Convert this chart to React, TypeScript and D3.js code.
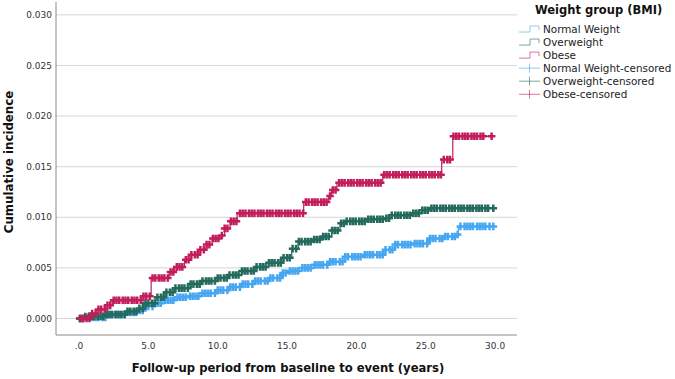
import React from "react";
import * as d3 from "d3";

// step points: [time in years, cumulative incidence]
const normalSteps: [number, number][] = [
  [0, 0], [0.5, 0.0001], [2.0, 0.0004], [3.3, 0.0006], [4.3, 0.0008], [4.76, 0.0012],
  [5.48, 0.0015], [6.2, 0.0018], [6.92, 0.0021], [7.88, 0.0022], [8.85, 0.0025],
  [9.81, 0.0028], [10.76, 0.0031], [11.73, 0.0034], [12.69, 0.0037], [13.65, 0.004],
  [14.61, 0.0045], [15.0, 0.0047], [15.81, 0.005], [16.78, 0.0053], [17.97, 0.0056],
  [19.18, 0.0061], [20.38, 0.0063], [22.06, 0.0068], [22.78, 0.0073], [23.99, 0.0074],
  [25.18, 0.0079], [26.39, 0.0081], [27.11, 0.0083], [27.35, 0.0091],
];
const overSteps: [number, number][] = [
  [0, 0], [0.43, 0.0002], [1.87, 0.0004], [3.32, 0.0007], [4.28, 0.001], [4.76, 0.0015],
  [5.48, 0.0021], [6.2, 0.0026], [6.92, 0.003], [7.88, 0.0034], [8.85, 0.0037],
  [9.81, 0.004], [10.76, 0.0043], [11.73, 0.0047], [12.69, 0.0051], [13.65, 0.0055],
  [14.61, 0.006], [15.34, 0.0069], [15.81, 0.0076], [16.78, 0.0078], [17.5, 0.0081],
  [18.22, 0.0087], [18.82, 0.0094], [19.18, 0.0096], [20.62, 0.0098], [22.06, 0.0099],
  [22.55, 0.0102], [23.99, 0.0104], [24.71, 0.0107], [25.18, 0.0109],
];
const obeseSteps: [number, number][] = [
  [0, 0], [0.9, 0.0005], [1.4, 0.0009], [1.9, 0.0013], [2.4, 0.0018], [4.5, 0.0022],
  [5.2, 0.004], [6.5, 0.0046], [6.9, 0.0051], [7.6, 0.0058], [8.1, 0.0063], [8.6, 0.0068],
  [9.2, 0.0073], [9.6, 0.0079], [10.1, 0.0082], [10.5, 0.0089], [10.9, 0.0096],
  [11.4, 0.0104], [16.2, 0.0115], [18.0, 0.0121], [18.2, 0.0127], [18.6, 0.0134],
  [21.9, 0.0142], [26.15, 0.0157], [26.95, 0.018],
];

// censoring times (years)
const normalCensor = [
  0.1, 0.3, 0.5, 0.8, 1.0, 1.2, 1.4, 1.7, 1.9, 2.1, 2.3, 2.6, 2.8, 3.0, 3.2, 3.5, 3.7, 3.9,
  4.1, 4.4, 4.6, 4.8, 5.0, 5.3, 5.5, 5.7, 5.9, 6.2, 6.4, 6.6, 6.8, 7.1, 7.3, 7.5, 7.7, 8.0,
  8.2, 8.4, 8.6, 8.9, 9.1, 9.3, 9.5, 9.8, 10.0, 10.2, 10.4, 10.7, 10.9, 11.1, 11.3, 11.6,
  11.8, 12.0, 12.2, 12.5, 12.7, 12.9, 13.1, 13.4, 13.6, 13.8, 14.0, 14.3, 14.5, 14.7, 14.9,
  15.2, 15.4, 15.6, 15.8, 16.1, 16.3, 16.5, 16.7, 17.0, 17.2, 17.4, 17.6, 17.9, 18.1, 18.3,
  18.5, 18.8, 19.0, 19.2, 19.4, 19.7, 19.9, 20.1, 20.3, 20.6, 20.8, 21.0, 21.2, 21.5, 21.7,
  21.9, 22.1, 22.4, 22.6, 22.8, 23.0, 23.3, 23.5, 23.7, 23.9, 24.2, 24.4, 24.6, 24.8, 25.1,
  25.3, 25.5, 25.7, 26.0, 26.2, 26.4, 26.6, 26.9, 27.1, 27.3, 27.5, 27.8, 28.0, 28.2, 28.4,
  28.7, 28.9, 29.1, 29.3, 29.6, 29.87,
];
const overCensor = [
  0.05, 0.25, 0.45, 0.7, 0.9, 1.1, 1.35, 1.55, 1.75, 2.0, 2.2, 2.4, 2.65, 2.85, 3.05, 3.3,
  3.5, 3.7, 3.95, 4.15, 4.35, 4.6, 4.8, 5.0, 5.25, 5.45, 5.65, 5.9, 6.1, 6.3, 6.55, 6.75,
  6.95, 7.2, 7.4, 7.6, 7.85, 8.05, 8.25, 8.5, 8.7, 8.9, 9.15, 9.35, 9.55, 9.8, 10.0, 10.2,
  10.45, 10.65, 10.85, 11.1, 11.3, 11.5, 11.75, 11.95, 12.15, 12.4, 12.6, 12.8, 13.05,
  13.25, 13.45, 13.7, 13.9, 14.1, 14.35, 14.55, 14.75, 15.0, 15.2, 15.4, 15.65, 15.85,
  16.05, 16.3, 16.5, 16.7, 16.95, 17.15, 17.35, 17.6, 17.8, 18.0, 18.25, 18.45, 18.65,
  18.9, 19.1, 19.3, 19.55, 19.75, 19.95, 20.2, 20.4, 20.6, 20.85, 21.05, 21.25, 21.5, 21.7,
  21.9, 22.15, 22.35, 22.55, 22.8, 23.0, 23.2, 23.45, 23.65, 23.85, 24.1, 24.3, 24.5,
  24.75, 24.95, 25.15, 25.4, 25.6, 25.8, 26.05, 26.25, 26.45, 26.7, 26.9, 27.1, 27.35,
  27.55, 27.75, 28.0, 28.2, 28.4, 28.65, 28.85, 29.05, 29.3, 29.5, 29.87,
];
const obeseCensor = [
  0.1, 0.3, 0.55, 0.75, 0.95, 1.2, 1.4, 1.6, 1.85, 2.05, 2.25, 2.5, 2.7, 2.9, 3.15, 3.35,
  3.55, 3.8, 4.0, 4.2, 4.45, 4.65, 4.85, 5.1, 5.3, 5.5, 5.75, 5.95, 6.15, 6.4, 6.6, 6.8,
  7.05, 7.25, 7.45, 7.7, 7.9, 8.1, 8.35, 8.55, 8.75, 9.0, 9.2, 9.4, 9.65, 9.85, 10.05,
  10.3, 10.5, 10.7, 10.95, 11.15, 11.35, 11.6, 11.8, 12.0, 12.25, 12.45, 12.65, 12.9,
  13.1, 13.3, 13.55, 13.75, 13.95, 14.2, 14.4, 14.6, 14.85, 15.05, 15.25, 15.5, 15.7,
  15.9, 16.15, 16.35, 16.55, 16.8, 17.0, 17.2, 17.45, 17.65, 17.85, 18.1, 18.3, 18.5,
  18.75, 18.95, 19.15, 19.4, 19.6, 19.8, 20.05, 20.25, 20.45, 20.7, 20.9, 21.1, 21.35,
  21.55, 21.75, 22.0, 22.2, 22.4, 22.65, 22.85, 23.05, 23.3, 23.5, 23.7, 23.95, 24.15,
  24.35, 24.6, 24.8, 25.0, 25.25, 25.45, 25.65, 25.9, 26.1, 26.3, 26.55, 26.75, 27.0,
  27.2, 27.4, 27.65, 27.85, 28.05, 28.3, 28.5, 28.7, 28.95, 29.15, 29.75,
];

const groupNames = ["Normal Weight", "Overweight", "Obese"];
const groupColors = ["#45a6f2", "#236a5c", "#c21d5b"];
const yTicks = [0, 0.005, 0.01, 0.015, 0.02, 0.025, 0.03];
const xTicks = [0, 5, 10, 15, 20, 25, 30];

const groups = [
  { steps: normalSteps, censor: normalCensor },
  { steps: overSteps, censor: overCensor },
  { steps: obeseSteps, censor: obeseCensor },
];

const W = 675;
const H = 379;
const plot = { left: 56, right: 517, top: 2, bottom: 335 };
const font = "'DejaVu Sans', sans-serif";

export default function App() {
  const x = d3.scaleLinear().domain([-1.66, 31.58]).range([plot.left, plot.right]);
  const y = d3.scaleLinear().domain([-0.00163, 0.03127]).range([plot.bottom, plot.top]);

  const line = d3
    .line<[number, number]>()
    .x((d) => x(d[0]))
    .y((d) => y(d[1]))
    .curve(d3.curveStepAfter);

  const valueAt = (steps: [number, number][], t: number) => {
    const i = d3.bisector((d: [number, number]) => d[0]).right(steps, t) - 1;
    return steps[Math.max(0, i)][1];
  };

  const armX = 3.8;
  const armY = 3.8;

  return (
    <svg
      width={W}
      height={H}
      viewBox={`0 0 ${W} ${H}`}
      style={{ position: "absolute", left: 0, top: 0, background: "#fff" }}
    >
      {/* grid */}
      {yTicks.map((t) => (
        <line key={t} x1={plot.left} x2={plot.right} y1={y(t)} y2={y(t)} stroke="#d6d6d6" strokeWidth={1} />
      ))}
      <line x1={plot.left} x2={plot.left} y1={plot.top} y2={plot.bottom} stroke="#8a8a8a" strokeWidth={1} />
      <line x1={plot.left} x2={plot.right} y1={plot.bottom} y2={plot.bottom} stroke="#8a8a8a" strokeWidth={1} />

      {/* tick labels */}
      {yTicks.map((t) => (
        <text key={t} x={52} y={y(t)} dy="0.35em" textAnchor="end" fontFamily={font} fontSize={9} fill="#333">
          {d3.format(".3f")(t)}
        </text>
      ))}
      {xTicks.map((t) => (
        <text key={t} x={x(t)} y={349} textAnchor="middle" fontFamily={font} fontSize={9} fill="#333">
          {t === 0 ? ".0" : d3.format(".1f")(t)}
        </text>
      ))}

      {/* curves with censoring marks */}
      {groups.map((g, gi) => {
        const last = g.censor[g.censor.length - 1];
        const pts: [number, number][] = [...g.steps, [last, g.steps[g.steps.length - 1][1]]];
        const marks = g.censor
          .map((t) => {
            const cx = x(t);
            const cy = y(valueAt(g.steps, t));
            return `M${cx - armX},${cy}H${cx + armX}M${cx},${cy - armY}V${cy + armY}`;
          })
          .join("");
        return (
          <g key={gi}>
            <path d={line(pts) ?? ""} fill="none" stroke={groupColors[gi]} strokeWidth={1.2} />
            <path d={marks} fill="none" stroke={groupColors[gi]} strokeWidth={2.5} />
          </g>
        );
      })}

      {/* axis titles */}
      <text
        transform={`translate(9,162) rotate(-90)`}
        textAnchor="middle"
        dy="0.35em"
        fontFamily={font}
        fontWeight="bold"
        fontSize={11.8}
        fill="#111"
      >
        Cumulative incidence
      </text>
      <text x={288} y={372} textAnchor="middle" fontFamily={font} fontWeight="bold" fontSize={11.6} fill="#111">
        Follow-up period from baseline to event (years)
      </text>

      {/* legend */}
      <text x={535} y={14} fontFamily={font} fontWeight="bold" fontSize={11.5} fill="#111">
        Weight group (BMI)
      </text>
      {groupNames.map((name, i) => {
        const cy = 29 + i * 13.05;
        return (
          <g key={name}>
            <path
              d={`M519,${cy + 3}H530V${cy - 3}H539V${cy + 1}`}
              fill="none"
              stroke={groupColors[i]}
              strokeOpacity={0.6}
              strokeWidth={1}
            />
            <text x={543} y={cy} dy="0.36em" fontFamily={font} fontSize={10.4} fill="#222">
              {name}
            </text>
          </g>
        );
      })}
      {groupNames.map((name, i) => {
        const cy = 29 + (i + 3) * 13.05;
        return (
          <g key={name + "-c"}>
            <path
              d={`M519,${cy}H540M529.5,${cy - 4.5}V${cy + 4.5}`}
              fill="none"
              stroke={groupColors[i]}
              strokeOpacity={0.6}
              strokeWidth={1}
            />
            <text x={543} y={cy} dy="0.36em" fontFamily={font} fontSize={10.4} fill="#222">
              {name}-censored
            </text>
          </g>
        );
      })}
    </svg>
  );
}
